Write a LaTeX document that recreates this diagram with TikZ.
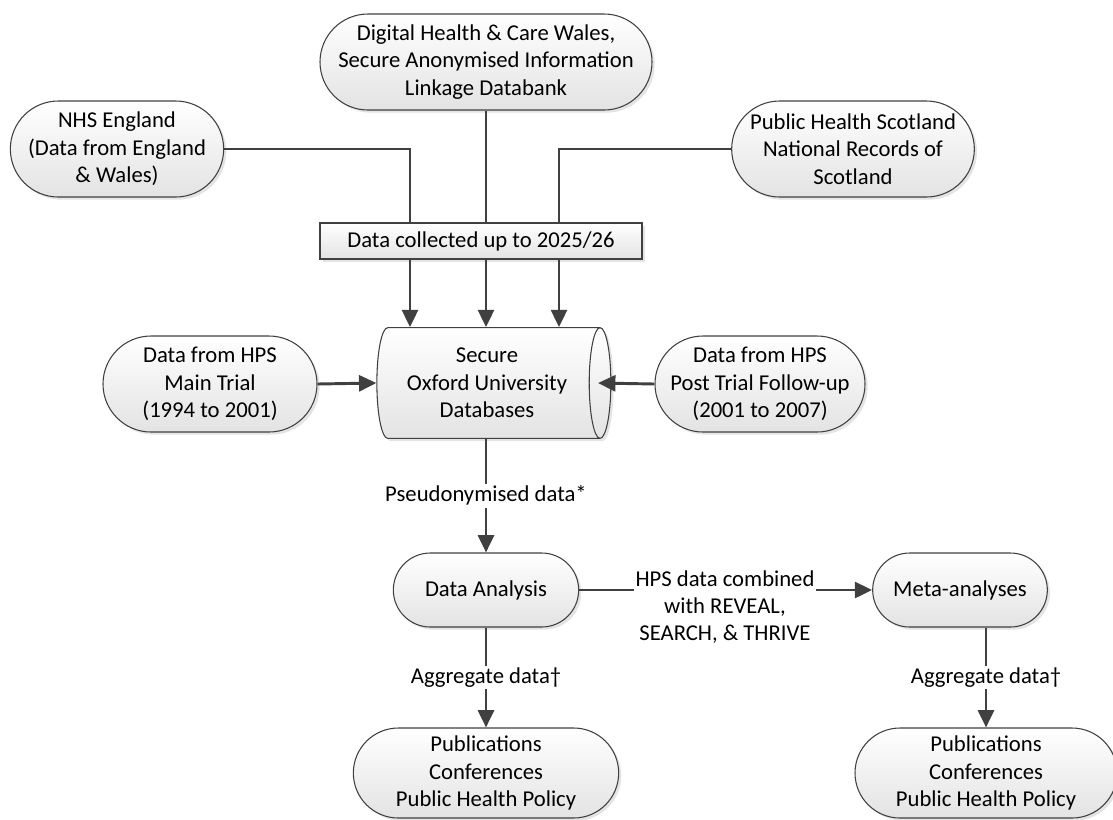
\documentclass[tikz,border=0pt]{standalone}
\usepackage{fontspec}
\setmainfont{Carlito}
\usepackage{xcolor}
\usepackage{tikz}
\usetikzlibrary{shapes.geometric,arrows.meta,shadows}
\definecolor{linegray}{HTML}{404040}

\begin{document}
\begin{tikzpicture}[x=0.75pt, y=-0.75pt,
    every node/.style={font=\fontsize{17pt}{20.5pt}\selectfont, text=black},
    shade/.style={top color=white, bottom color=gray!22, draw=linegray, line width=0.8pt,
        drop shadow={shadow xshift=2pt, shadow yshift=-2pt, fill=gray!60, opacity=0.35}},
    term/.style={shade, rectangle, align=center, inner sep=1pt, minimum height=#1, rounded corners=#1/2},
    ln/.style={draw=linegray, line width=2.2pt},
    arr/.style={ln, -{Triangle[length=13pt, width=12pt]}},
    lab/.style={fill=white, inner sep=1.5pt, align=center}]
    \useasboundingbox (0,0) rectangle (1113,819);

    % Sources
    \node[term=72pt, minimum width=160pt] (nhs) at (117,149) {NHS England\\(Data from England\\\& Wales)};
    \node[term=72pt, minimum width=249pt] (dhcw) at (486,62) {Digital Health \& Care Wales,\\Secure Anonymised Information\\Linkage Databank};
    \node[term=72pt, minimum width=182pt] (phs) at (853,149) {Public Health Scotland\\National Records of\\Scotland};

    % Collection box
    \node[shade, rectangle, minimum width=241.5pt, minimum height=27pt, inner sep=1pt] (coll) at (481,241) {Data collected up to 2025/26};
    \coordinate (xl) at (410,0);
    \coordinate (xr) at (559,0);

    % Database and trial data
    \node[shade, cylinder, shape aspect=0.3, minimum width=83pt, minimum height=175.5pt, align=center, inner sep=1pt] (db) at (487,383) {Secure\\Oxford University\\Databases};
    \node[term=72pt, minimum width=160.5pt] (main) at (210,384) {Data from HPS\\Main Trial\\(1994 to 2001)};
    \node[term=72pt, minimum width=157.5pt] (post) at (760,384) {Data from HPS\\Post Trial Follow-up\\(2001 to 2007)};

    % Analysis
    \node[term=55.5pt, minimum width=139pt] (ana) at (486,590) {Data Analysis};
    \node[term=55.5pt, minimum width=131pt] (meta) at (960,590) {Meta-analyses};
    \node[term=67.5pt, minimum width=199pt] (pub1) at (486,773) {Publications\\Conferences\\Public Health Policy};
    \node[term=67.5pt, minimum width=196.5pt] (pub2) at (986,773) {Publications\\Conferences\\Public Health Policy};

    % Lines into the collection box
    \draw[ln] (nhs.east) -| (coll.north -| xl);
    \draw[ln] (dhcw.south) -- (dhcw.south |- coll.north);
    \draw[ln] (phs.west) -| (coll.north -| xr);

    % Arrows into the databases
    \draw[arr] (coll.south -| xl) -- (db.north -| xl);
    \draw[arr] (coll.south -| dhcw) -- (db.north -| dhcw);
    \draw[arr] (coll.south -| xr) -- (db.north -| xr);
    \draw[arr] (main.east) -- (db.west);
    \draw[arr] (post.west) -- ([xshift=-10pt]db.east);

    % Output
    \draw[arr] (db.south -| ana) -- node[lab]{Pseudonymised data*} (ana.north);
    \draw[arr] (ana.east) -- (meta.west);
    \node[lab] (comb) at (725,607) {HPS data combined\\with REVEAL,\\SEARCH, \& THRIVE};
    \draw[arr] (ana.south) -- node[lab]{Aggregate data\textdagger} (pub1.north);
    \draw[arr] (meta.south -| pub2) -- node[lab]{Aggregate data\textdagger} (pub2.north);
\end{tikzpicture}
\end{document}
